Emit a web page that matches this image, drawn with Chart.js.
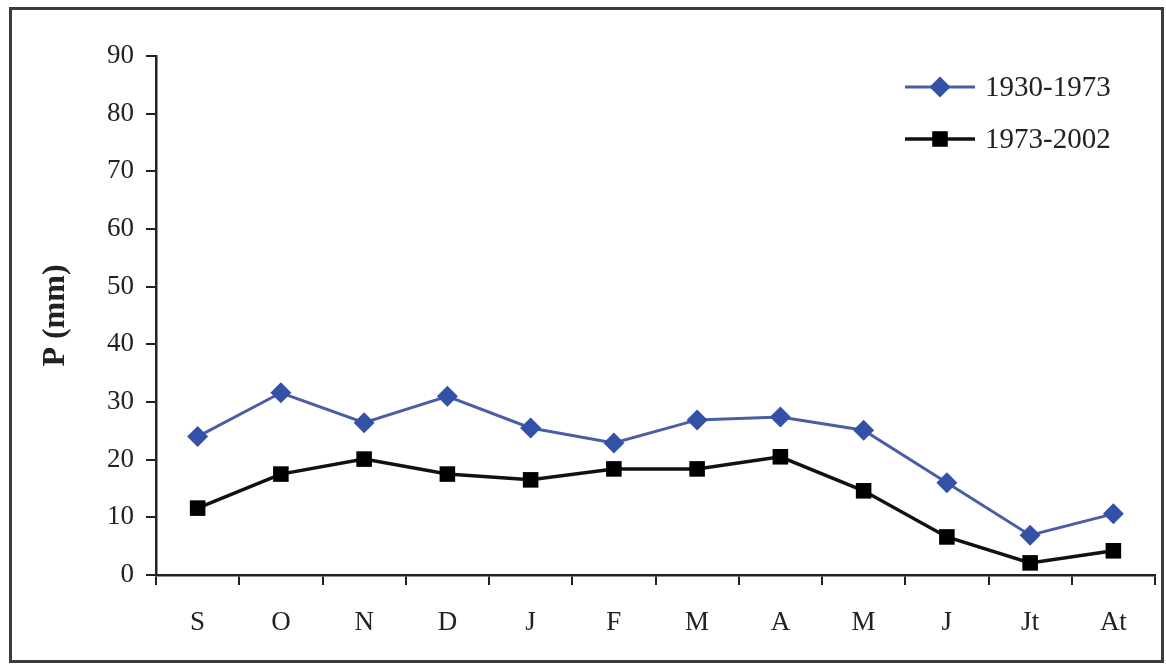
<!DOCTYPE html>
<html>
<head>
<meta charset="utf-8">
<script src="https://cdn.jsdelivr.net/npm/chart.js@4.4.1/dist/chart.umd.min.js"></script>
<style>
  html, body { margin: 0; padding: 0; background: #fff; }
  #wrap { position: relative; width: 1166px; height: 668px; }
</style>
</head>
<body>
<div id="wrap"><canvas id="chart" width="1166" height="668"></canvas></div>
<script>
const months = ["S", "O", "N", "D", "J", "F", "M", "A", "M", "J", "Jt", "At"]
const seriesNames = ["1930-1973", "1973-2002"]
const p1930 = [24, 31.6, 26.4, 31, 25.5, 22.9, 26.9, 27.4, 25.1, 16, 6.9, 10.6]
const p1973 = [11.6, 17.5, 20.1, 17.5, 16.5, 18.4, 18.4, 20.5, 14.6, 6.6, 2.1, 4.2]
const yTicks = [0, 10, 20, 30, 40, 50, 60, 70, 80, 90]

const serif = "'Liberation Serif', 'Times New Roman', serif"
const ink = "#222"

// frame round the whole picture + legend in the top right corner
const framePlugin = {
    id: "frame",
    afterDraw(chart) {
        const ctx = chart.ctx
        ctx.save()
        ctx.strokeStyle = "#3c3c3c"
        ctx.lineWidth = 3
        ctx.strokeRect(10.5, 8.5, 1152, 653)

        const rows = [87, 139]
        chart.data.datasets.forEach((ds, i) => {
            const y = rows[i]
            ctx.strokeStyle = ds.borderColor
            ctx.lineWidth = ds.borderWidth
            ctx.beginPath()
            ctx.moveTo(905, y)
            ctx.lineTo(975, y)
            ctx.stroke()
            ctx.fillStyle = ds.pointBackgroundColor
            ctx.beginPath()
            if (ds.pointStyle === "rectRot") {
                const r = ds.pointRadius
                ctx.moveTo(940, y - r)
                ctx.lineTo(940 + r, y)
                ctx.lineTo(940, y + r)
                ctx.lineTo(940 - r, y)
                ctx.closePath()
            } else {
                const s = ds.pointRadius * Math.SQRT1_2
                ctx.rect(940 - s, y - s, 2 * s, 2 * s)
            }
            ctx.fill()
            ctx.fillStyle = ink
            ctx.font = "29px " + serif
            ctx.textBaseline = "middle"
            ctx.textAlign = "left"
            ctx.fillText(ds.label, 985, y + 1)
        })
        ctx.restore()
    },
}

new Chart(document.getElementById("chart"), {
    type: "line",
    data: {
        labels: months,
        datasets: [
            {
                label: seriesNames[0],
                data: p1930,
                borderColor: "#4a5ea6",
                borderWidth: 3,
                pointStyle: "rectRot",
                pointRadius: 10.5,
                pointBackgroundColor: "#3451a8",
                pointBorderColor: "#3451a8",
                pointBorderWidth: 0,
                tension: 0,
            },
            {
                label: seriesNames[1],
                data: p1973,
                borderColor: "#111",
                borderWidth: 3.5,
                pointStyle: "rect",
                pointRadius: 11,
                pointBackgroundColor: "#000",
                pointBorderColor: "#000",
                pointBorderWidth: 0,
                tension: 0,
            },
        ],
    },
    plugins: [framePlugin],
    options: {
        responsive: false,
        animation: false,
        events: [],
        layout: { padding: { top: 56, right: 8, left: 0, bottom: 0 } },
        plugins: {
            legend: { display: false },
            tooltip: { enabled: false },
        },
        scales: {
            x: {
                offset: true,
                grid: {
                    offset: true,
                    drawOnChartArea: false,
                    drawTicks: true,
                    tickLength: 10,
                    color: ink,
                    lineWidth: 2,
                },
                border: { display: true, color: ink, width: 2.5 },
                ticks: {
                    color: ink,
                    font: { family: serif, size: 27 },
                    padding: 22,
                    maxRotation: 0,
                },
                afterFit(scale) {
                    scale.height = 93
                },
            },
            y: {
                min: 0,
                max: 90,
                afterBuildTicks(scale) {
                    scale.ticks = yTicks.map((v) => ({ value: v }))
                },
                grid: {
                    drawOnChartArea: false,
                    drawTicks: true,
                    tickLength: 10,
                    color: ink,
                    lineWidth: 2,
                },
                border: { display: true, color: ink, width: 2.5 },
                ticks: {
                    color: ink,
                    font: { family: serif, size: 27 },
                    padding: 12,
                },
                title: {
                    display: true,
                    text: "P (mm)",
                    color: ink,
                    font: { family: serif, size: 32, weight: "bold" },
                    padding: { top: 37, bottom: 0 },
                },
                afterFit(scale) {
                    scale.width = 156
                },
            },
        },
    },
})
</script>
</body>
</html>
